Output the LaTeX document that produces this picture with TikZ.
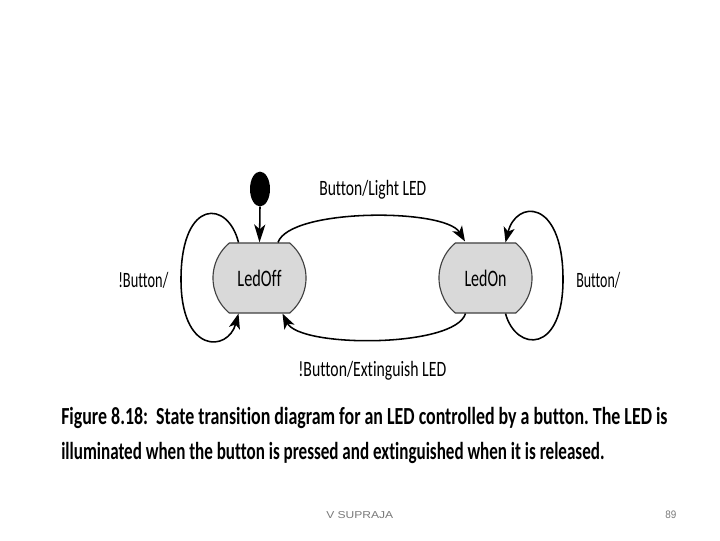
\documentclass[tikz,border=0pt]{standalone}
\usepackage{fontspec}
\setmainfont{Carlito}[Ligatures=NoCommon]
\newfontfamily\footfont{Liberation Sans}
\usetikzlibrary{arrows.meta,shapes.misc,shapes.geometric,calc}
\newcommand\fitbox[3]{\resizebox{#1}{#2}{#3}}
\definecolor{statefill}{HTML}{D9D9D9}
\definecolor{footgray}{HTML}{7A7A7A}
\frenchspacing
\begin{document}
\begin{tikzpicture}[x=0.025cm,y=-0.025cm,
  statebox/.style={rounded rectangle, rounded rectangle arc length=100,
    fill=statefill, draw=black!75, line width=0.8pt,
    minimum width=2.325cm, minimum height=1.75cm, inner sep=0pt},
  conn/.style={line width=1.1pt, -{Stealth[length=0.38cm,width=0.28cm,inset=0.1cm]}},
  lbl/.style={anchor=base west, inner sep=0pt},
  foot/.style={anchor=base west, inner sep=0pt, text=footgray}]
\useasboundingbox[fill=white] (0,0) rectangle (720,540);

% states
\node[statebox] (LedOff) at (259.5,278) {\fitbox{1.1cm}{0.41cm}{LedOff}};
\node[statebox] (LedOn) at (485.5,278) {\fitbox{1.05cm}{0.41cm}{LedOn}};
\node[ellipse, fill=black, minimum width=0.5cm, minimum height=0.87cm, inner sep=0pt] (init) at (260,189) {};

% initial transition
\draw[line width=1.1pt, -{Stealth[length=0.45cm,width=0.28cm,inset=0.12cm]}] (init.south) -- (LedOff.north);

% Button/Light LED
\draw[conn] ($(LedOff.north)+(18.5,0)$) .. controls (290,208) and (445,208) .. ($(LedOn.north)+(-20.5,-1)$);
% !Button/Extinguish LED
\draw[conn] ($(LedOn.south)+(-20,0)$) .. controls (455,348) and (300,348) .. ($(LedOff.south)+(23,0)$);
% self loop LedOff
\draw[conn] ($(LedOff.north)+(-21,0)$) .. controls (228,200) and (182,198) .. (181,277)
  .. controls (180,355) and (228,352) .. ($(LedOff.south)+(-21,0)$);
% self loop LedOn
\draw[conn] ($(LedOn.south)+(20,0)$) .. controls (516,352) and (564,355) .. (563,277)
  .. controls (562,198) and (516,200) .. ($(LedOn.north)+(20,0)$);

% labels
\node[lbl] (lA) at (319,195) {\fitbox{2.675cm}{0.38cm}{Button/Light LED}};
\node[lbl] (lB) at (298,376) {\fitbox{3.7cm}{0.38cm}{!Button/Extinguish LED}};
\node[lbl] (lC) at (118,287) {\fitbox{1.25cm}{0.38cm}{!Button/}};
\node[lbl] (lD) at (576,287) {\fitbox{1.1cm}{0.38cm}{Button/}};

% caption
\node[lbl] (cap1) at (61,424) {\fitbox{15.15cm}{0.43cm}{\bfseries Figure 8.18:\ \ State transition diagram for an LED controlled by a button. The LED is}};
\node[lbl] (cap2) at (61,459) {\fitbox{13.575cm}{0.43cm}{\bfseries illuminated when the button is pressed and extinguished when it is released.}};

% footer
\node[foot] (author) at (326,518) {\fitbox{1.675cm}{0.175cm}{\footfont V SUPRAJA}};
\node[foot] (page) at (665,518) {\fitbox{0.275cm}{0.19cm}{\footfont 89}};
\end{tikzpicture}
\end{document}
